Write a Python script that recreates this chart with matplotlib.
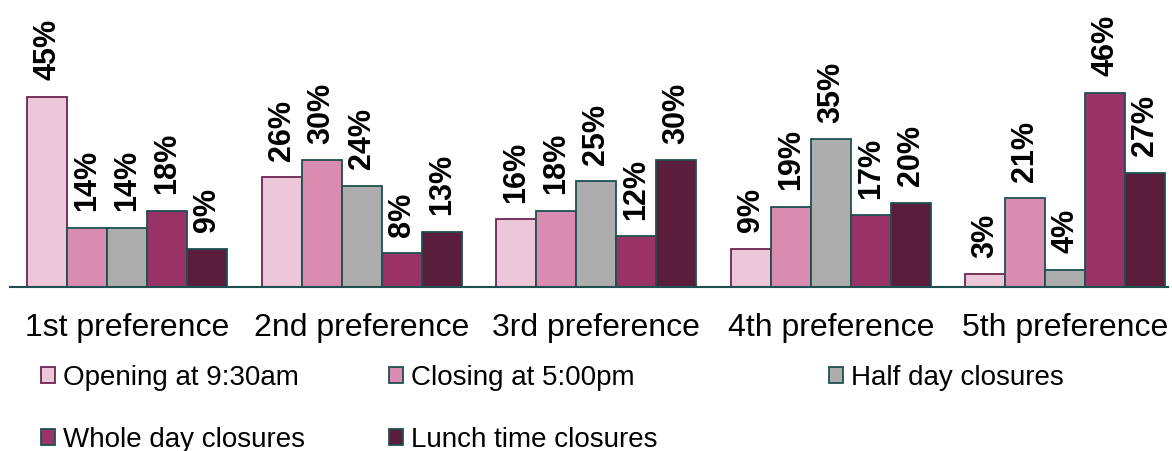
import numpy as np
import matplotlib.pyplot as plt
from matplotlib.patches import Patch

plt.rcParams['font.family'] = ['Liberation Sans', 'DejaVu Sans']

categories = ['1st preference', '2nd preference', '3rd preference', '4th preference', '5th preference']
series = ['Opening at 9:30am', 'Closing at 5:00pm', 'Half day closures',
          'Whole day closures', 'Lunch time closures']
opening = [45, 26, 16, 9, 3]
closing = [14, 30, 18, 19, 21]
half_day = [14, 24, 25, 35, 4]
whole_day = [18, 8, 12, 17, 46]
lunch = [9, 13, 30, 20, 27]
values = [opening, closing, half_day, whole_day, lunch]

colors = ['#ecc6d9', '#d98bb0', '#adadad', '#993366', '#5a1e3c']
edges = ['#6b2550', '#1e5050', '#1e5050', '#1e5050', '#1e5050']

fig = plt.figure(figsize=(11.72, 4.51), dpi=100)
ax = fig.add_axes([10 / 1172, 1 - 287 / 451, 1158 / 1172, 287 / 451])

x = np.arange(len(categories))
w = 0.1706
for i, (vals, c, ec) in enumerate(zip(values, colors, edges)):
    pos = x + (i - 2) * w
    ax.bar(pos, vals, width=w, color=c, edgecolor=ec, linewidth=1.3, zorder=2)
    for p, v in zip(pos, vals):
        ax.annotate(f'{v}%', (p, v), xytext=(0, 12), textcoords='offset points',
                    rotation=90, ha='center', va='bottom',
                    fontsize=22, fontweight='bold')

ax.set_xlim(-0.5, 4.438)
ax.set_ylim(0, 68)
ax.set_yticks([])
ax.set_xticks(x)
ax.set_xticklabels(categories, fontsize=23)
ax.tick_params(axis='x', length=0, pad=19)
for s in ['top', 'right', 'left']:
    ax.spines[s].set_visible(False)
ax.spines['bottom'].set_color('#1e5050')
ax.spines['bottom'].set_linewidth(1.5)

handles = [Patch(facecolor=c, edgecolor=ec, linewidth=1.3) for c, ec in zip(colors, edges)]
# legend laid out row by row, one legend per column
columns = [[0, 3], [1, 4], [2]]
col_x = [41, 389, 829]
for idx, cx in zip(columns, col_x):
    fig.legend([handles[k] for k in idx], [series[k] for k in idx],
               loc='upper left', bbox_to_anchor=(cx / 1172, 1 - 365 / 451),
               frameon=False, fontsize=20, handlelength=0.5, handleheight=0.5,
               handletextpad=0.3, labelspacing=1.3, borderpad=0, borderaxespad=0)

fig.savefig('out.png', dpi=100)
